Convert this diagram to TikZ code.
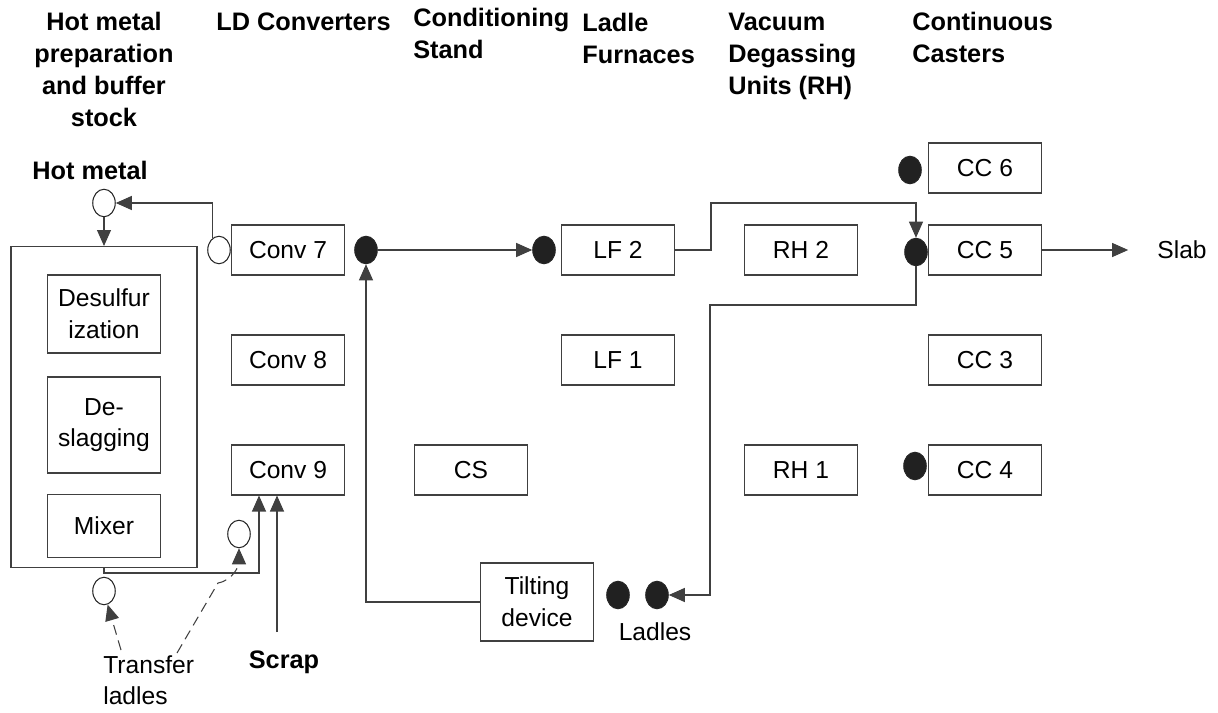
\documentclass[tikz,border=0pt]{standalone}
\usepackage{fontspec}
\setmainfont{Liberation Sans}
\usetikzlibrary{arrows.meta,shapes.geometric}
\begin{document}
\begin{tikzpicture}[x=0.02cm,y=-0.02cm,
    every node/.style={font=\fontsize{14}{18.1}\selectfont},
    hdr/.style={font=\fontsize{14.4}{18.1}\selectfont\bfseries, inner sep=0pt, align=left},
    unit/.style={draw=black!75, line width=0.6pt, minimum width=2.26cm, minimum height=1cm, inner sep=0pt},
    openlad/.style={shape=ellipse, draw=black!85, fill=white, line width=0.6pt, minimum width=0.45cm, minimum height=0.55cm, inner sep=0pt},
    fulllad/.style={openlad, fill=black!87},
    flow/.style={draw=black!75, line width=0.6pt, -{Triangle[length=0.32cm,width=0.28cm]}},
    ladleflow/.style={flow, dash pattern=on 0.2cm off 0.12cm}]
        \useasboundingbox (0,0) rectangle (1218,713);

        % column headers
        \node[hdr, align=center, anchor=north] (hprep) at (104,12) {Hot metal\\preparation\\and buffer\\stock};
        \node[hdr, anchor=north west] (hld) at (216,12) {LD Converters};
        \node[hdr, anchor=north west] (hcs) at (413,8) {Conditioning\\Stand};
        \node[hdr, anchor=north west] (hlf) at (582,13) {Ladle\\Furnaces};
        \node[hdr, anchor=north west] (hrh) at (728,13) {Vacuum\\Degassing\\Units (RH)};
        \node[hdr, anchor=north west] (hcc) at (912,12) {Continuous\\Casters};
        \node[hdr] (hotmetal) at (90,170) {Hot metal};

        % units
        \node[unit] (conv7) at (288,250) {Conv 7};
        \node[unit] (conv8) at (288,360) {Conv 8};
        \node[unit] (conv9) at (288,470) {Conv 9};
        \node[unit] (cs) at (471,470) {CS};
        \node[unit] (lf2) at (618,250) {LF 2};
        \node[unit] (lf1) at (618,360) {LF 1};
        \node[unit] (rh2) at (801,250) {RH 2};
        \node[unit] (rh1) at (801,470) {RH 1};
        \node[unit] (cc6) at (985,168) {CC 6};
        \node[unit] (cc5) at (985,250) {CC 5};
        \node[unit] (cc3) at (985,360) {CC 3};
        \node[unit] (cc4) at (985,470) {CC 4};
        \node[unit, minimum height=1.56cm, align=center] (tilt) at (537,602) {Tilting\\device};

        % hot metal preparation
        \node[unit, minimum width=3.72cm, minimum height=6.42cm] (prep) at (104,407) {};
        \node[unit, minimum height=1.56cm, align=center] (desulf) at (104,314) {Desulfur\\ization};
        \node[unit, minimum height=1.92cm, align=center] (deslag) at (104,425) {De-\\slagging};
        \node[unit, minimum height=1.26cm] (mixer) at (104,526) {Mixer};

        % ladles
        \node[openlad] (hm) at (104,203) {};
        \node[openlad] (c7in) at (219,250) {};
        \node[openlad] (c9in) at (239,534) {};
        \node[openlad] (tlad) at (104,591) {};
        \node[fulllad] (c7out) at (366,250) {};
        \node[fulllad] (lf2in) at (544,250) {};
        \node[fulllad] (cc6in) at (910,170) {};
        \node[fulllad] (cc5in) at (916,252) {};
        \node[fulllad] (cc4in) at (915,466) {};
        \node[fulllad] (lad1) at (618,595) {};
        \node[fulllad] (lad2) at (657,595) {};

        % labels
        \node[hdr] (scrap) at (284,662) {Scrap};
        \node (ladles) at (655,632) {Ladles};
        \node (slab) at (1182,250) {Slab};
        \node[anchor=north west, align=left, inner sep=0pt] (transfer) at (103,655) {Transfer\\ladles};

        \coordinate (scrapin) at (277,632);
        \coordinate (turn) at (710,305);
        \coordinate (tl1) at (121,650);
        \coordinate (tl2) at (177,653);
        \coordinate (hook) at (218,583);

        % hot metal and scrap
        \draw[flow] (c7in.120) |- (hm.east);
        \draw[flow] (hm.south) -- (prep.north);
        \draw[flow] (prep.south) -- ++(0,5) -| ([xshift=-0.58cm]conv9.south);
        \draw[flow] (scrapin) -- (scrapin |- conv9.south);

        % steel route
        \draw[flow] (c7out) -- (lf2in);
        \draw[flow] (tilt.west) -| (c7out.south);
        \draw[flow] (lf2.east) -- ++(36,0) -- ++(0,-47) -| (cc5in.north);
        \draw[flow] (cc5in.south) |- (turn) |- (lad2.east);
        \draw[flow] (cc5.east) -- ([xshift=-0.46cm]slab.west);

        % transfer ladles
        \draw[ladleflow] (tl1) -- (tlad.-75);
        \draw[ladleflow] (tl2) -- (hook) to[out=10,in=-90] (c9in.south);
\end{tikzpicture}
\end{document}
